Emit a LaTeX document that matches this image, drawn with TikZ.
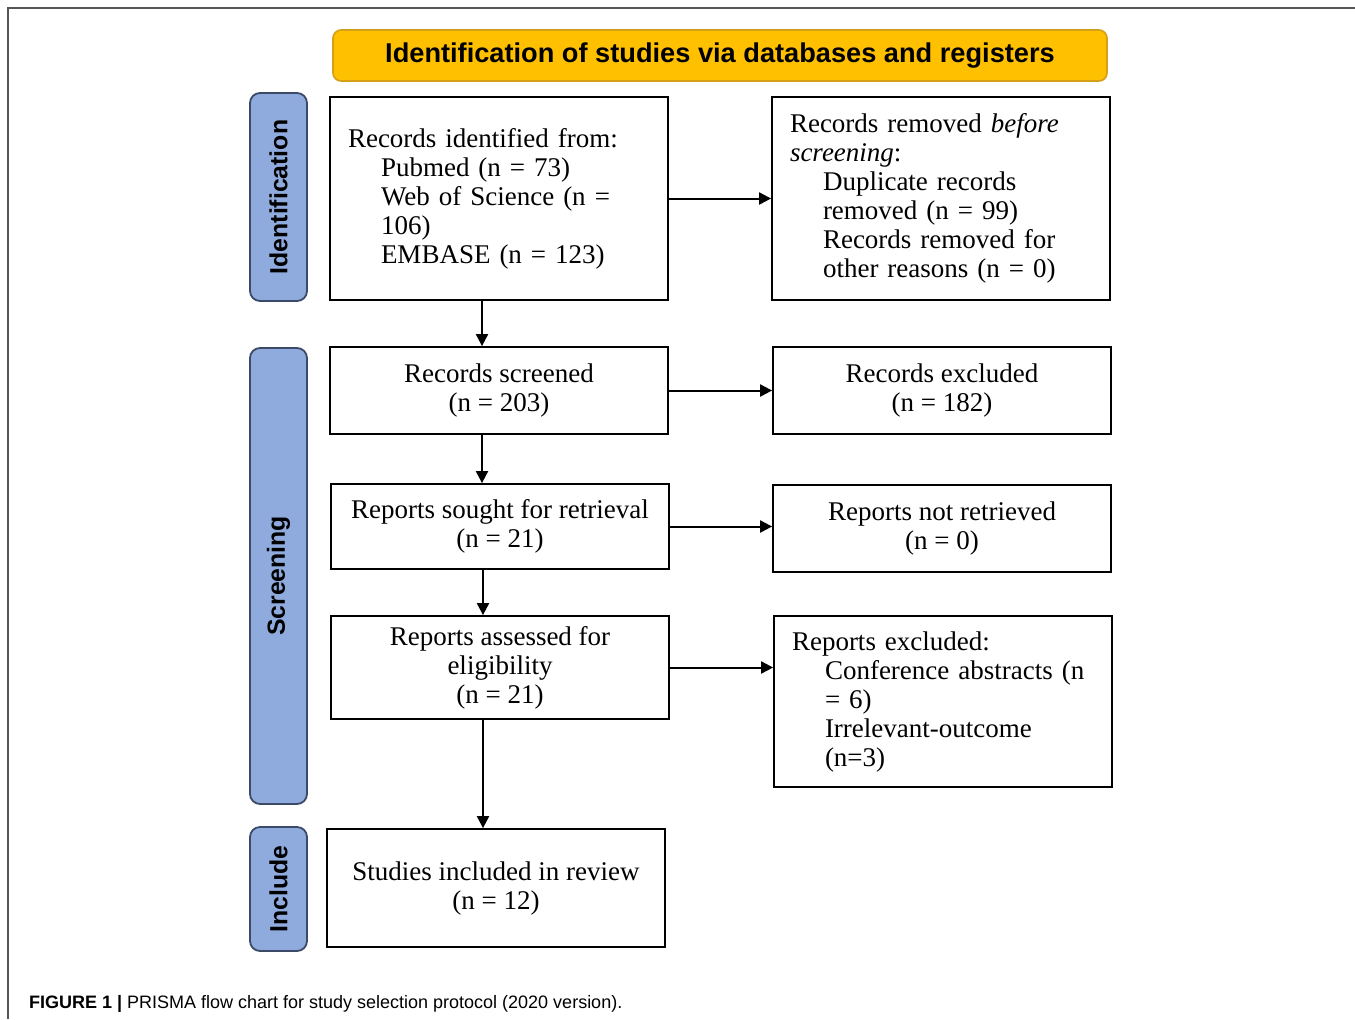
\documentclass[tikz,border=0pt]{standalone}
\usepackage{fontspec}
\setmainfont{Liberation Serif}
\setsansfont{Liberation Sans}
\usepackage{tikz}
\usetikzlibrary{arrows.meta}
\definecolor{bannergold}{HTML}{FFC000}
\definecolor{bannerline}{HTML}{D4A017}
\definecolor{phaseblue}{HTML}{8FAADC}
\definecolor{phaseline}{HTML}{3B4A66}
\definecolor{framegray}{HTML}{555555}
\newcommand{\ind}{\hspace*{16.5pt}}

\begin{document}
\begin{tikzpicture}[x=0.5pt,y=-0.5pt,
  box/.style={draw,line width=0.9pt,minimum width=169pt,minimum height=#1,inner sep=0pt,
    align=center,font=\fontsize{13.5}{14.5}\selectfont},
  listbox/.style={box=#1,text width=151pt,align=left},
  phase/.style={draw=phaseline,fill=phaseblue,line width=0.9pt,rounded corners=5pt,rotate=90,
    minimum width=#1,minimum height=28.5pt,inner sep=0pt,font=\sffamily\bfseries\fontsize{12.4}{14}\selectfont},
  banner/.style={draw=bannerline,fill=bannergold,line width=0.8pt,rounded corners=4pt,
    minimum width=387pt,minimum height=25.5pt,inner sep=0pt,font=\sffamily\bfseries\fontsize{13.6}{15}\selectfont},
  arr/.style={-{Triangle[length=6pt,width=6pt]},line width=1pt}]
\useasboundingbox (0,0) rectangle (1355,1019);
\draw[framegray,line width=1pt] (1355,8) -- (8,8) -- (8,1019);

\node[banner] (banner) at (720,55.5) {\raisebox{-1.5pt}{Identification of studies via databases and registers}};
\node[phase=104pt] (phid) at (278.5,197) {Identification};
\node[phase=228pt] (phscr) at (278.5,576) {Screening};
\node[phase=62pt] (phinc) at (278.5,889) {Include};

\node[listbox=101.5pt] (ident) at (499,198.5) {Records identified from:\\
  \ind Pubmed (n = 73)\\ \ind Web of Science (n =\\ \ind 106)\\ \ind EMBASE (n = 123)};
\node[listbox=101.5pt] (removed) at (941,198.5) {Records removed \textit{before}\\
  \textit{screening}:\\ \ind Duplicate records\\ \ind removed (n = 99)\\
  \ind Records removed for\\ \ind other reasons (n = 0)};
\node[box=43.5pt] (screened) at (499,390.5) {Records screened\\(n = 203)};
\node[box=43.5pt] (excluded) at (942,390.5) {Records excluded\\(n = 182)};
\node[box=42.5pt] (sought) at (500,526.5) {Reports sought for retrieval\\(n = 21)};
\node[box=43.5pt] (notret) at (942,528.5) {Reports not retrieved\\(n = 0)};
\node[box=51.5pt] (assessed) at (500,667.5) {Reports assessed for\\eligibility\\(n = 21)};
\node[listbox=85.5pt] (repexc) at (943,701.5) {Reports excluded:\\
  \ind Conference abstracts (n\\ \ind = 6)\\ \ind Irrelevant-outcome\\ \ind (n=3)};
\node[box=59pt] (included) at (496,888) {Studies included in review\\(n = 12)};

\draw[arr] ([xshift=-8.5pt]ident.south) -- ([xshift=-8.5pt]screened.north);
\draw[arr] ([xshift=-8.5pt]screened.south) -- ([xshift=-8.5pt]screened.south |- sought.north);
\draw[arr] ([xshift=-8.5pt]sought.south) -- ([xshift=-8.5pt]sought.south |- assessed.north);
\draw[arr] ([xshift=-8.5pt]assessed.south) -- ([xshift=-8.5pt]assessed.south |- included.north);
\draw[arr] (ident.east) -- (removed.west);
\draw[arr] (screened.east) -- (excluded.west);
\draw[arr] (sought.east) -- (sought.east -| notret.west);
\draw[arr] (assessed.east) -- (assessed.east -| repexc.west);

\node[anchor=west,font=\sffamily\fontsize{9}{11}\selectfont] (caption) at (22,1004)
  {\textbf{FIGURE 1 |} PRISMA flow chart for study selection protocol (2020 version).};
\end{tikzpicture}
\end{document}
